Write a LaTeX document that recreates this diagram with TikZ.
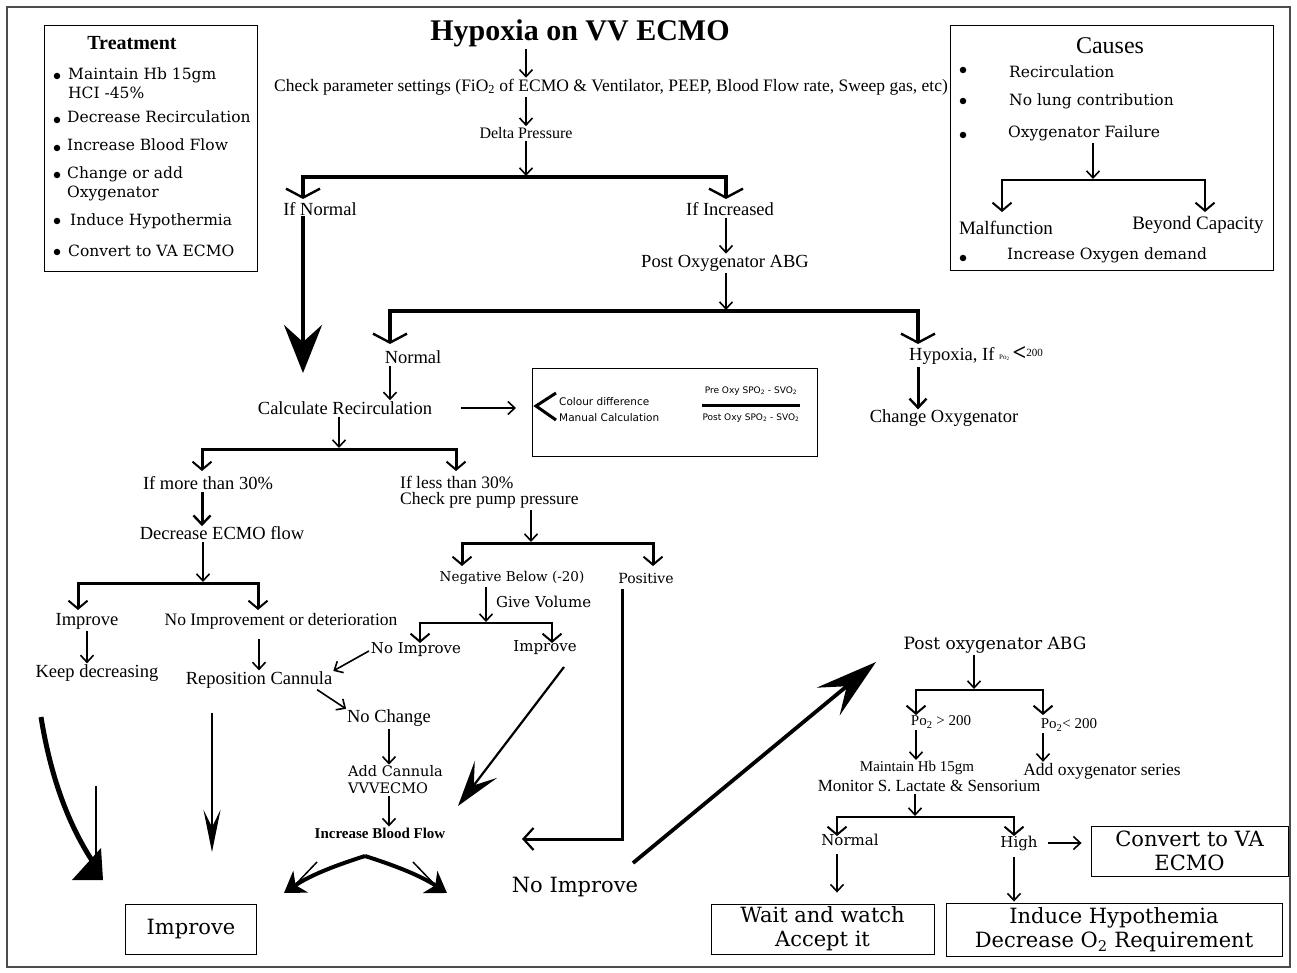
\documentclass[tikz,border=0pt]{standalone}
\usepackage{fontspec}
\setmainfont{Liberation Serif}
\newfontfamily\wide{DejaVu Serif}
\newfontfamily\dsans{DejaVu Sans}
\usetikzlibrary{arrows.meta}
\newcommand{\fs}[1]{\fontsize{#1}{#1}\selectfont}
\newcommand{\fsl}[2]{\fontsize{#1}{#2}\selectfont}
\tikzset{
  t/.style={inner sep=0pt, font=\fs{18.5}},
  w/.style={inner sep=0pt, font=\wide\fs{#1}},
  ar/.style={line width=1.6pt, shorten <=2pt, shorten >=1pt, -{Straight Barb[length=7pt,width=13pt,line width=1.6pt]}},
  thar/.style={line width=3pt, shorten <=2pt, -{Straight Barb[length=9pt,width=17pt,line width=2.4pt]}},
  brA/.style={line width=3.6pt, line join=miter, {Straight Barb[length=9pt,width=34pt,line width=2.4pt]}-{Straight Barb[length=9pt,width=34pt,line width=2.4pt]}},
  brB/.style={line width=3pt, line join=miter, {Straight Barb[length=8pt,width=19pt,line width=2pt]}-{Straight Barb[length=8pt,width=19pt,line width=2pt]}},
  box/.style={draw, line width=0.9pt, inner sep=0pt},
  dot/.style={fill, circle, inner sep=0pt, minimum size=6.5pt},
  frame/.style={draw=black!70, line width=1.2pt},
}
\begin{document}
\begin{tikzpicture}[x=1pt,y=-1pt]
\useasboundingbox (0,0) rectangle (1297,973);
\draw[frame] (7,7) rectangle (1290,967);

% ---------- Treatment box ----------
\node[box, anchor=north west, minimum width=213pt, minimum height=246pt] (tbox) at (44,25) {};
\node[inner sep=0pt, font=\bfseries\fs{20}] (treat) at (132,43) {Treatment};
\node[w=15.5, anchor=west] (tr1) at (68,75) {Maintain Hb 15gm};
\node[w=15.5, anchor=west] (tr1b) at (68,93) {HCI -45\%};
\node[w=15.5, anchor=west] (tr2) at (67,117) {Decrease Recirculation};
\node[w=15.5, anchor=west] (tr3) at (67,145) {Increase Blood Flow};
\node[w=15.5, anchor=west] (tr4) at (67,174) {Change or add};
\node[w=15.5, anchor=west] (tr4b) at (67,193) {Oxygenator};
\node[w=15.5, anchor=west] (tr5) at (70,221) {Induce Hypothermia};
\node[w=15.5, anchor=west] (tr6) at (68,251) {Convert to VA ECMO};
\node[dot] (tb1) at (57,76) {};
\node[dot] (tb2) at (57,120) {};
\node[dot] (tb3) at (57,148) {};
\node[dot] (tb4) at (57,175) {};
\node[dot] (tb5) at (57,221) {};
\node[dot] (tb6) at (57,252) {};

% ---------- Causes box ----------
\node[box, anchor=north west, minimum width=323pt, minimum height=245pt] (cbox) at (950,25) {};
\node[inner sep=0pt, font=\fs{24}] (causes) at (1110,46) {Causes};
\node[w=15.5, anchor=west] (c1) at (1009,72) {Recirculation};
\node[w=15.5, anchor=west] (c2) at (1009,101) {No lung contribution};
\node[w=15.5, anchor=west] (c3) at (1008,133) {Oxygenator Failure};
\node[w=15.5, anchor=west] (c4) at (1007,255) {Increase Oxygen demand};
\node[dot] (cb1) at (963,70) {};
\node[dot] (cb2) at (963,101) {};
\node[dot] (cb3) at (963,135) {};
\node[dot] (cb4) at (963,258) {};
\node[inner sep=0pt, font=\fs{19}] (malf) at (1006,228) {Malfunction};
\node[inner sep=0pt, font=\fs{19}] (beyond) at (1198,225) {Beyond Capacity};
\coordinate (cj) at (1093,180);
\coordinate (cdl) at (1002,212);
\coordinate (cdr) at (1205,212);
\draw[ar] (c3.south -| cj) -- (cj);
\draw[brB, line width=2.6pt] (cdl) |- (cj) -| (cdr);

% ---------- Top flow ----------
\node[inner sep=0pt, font=\bfseries\fs{30}] (title) at (580,33) {Hypoxia on VV ECMO};
\node[inner sep=0pt, font=\fs{17.5}] (check) at (611,87) {Check parameter settings (FiO\textsubscript{2} of ECMO \& Ventilator, PEEP, Blood Flow rate, Sweep gas, etc)};
\node[inner sep=0pt, font=\fs{16}] (delta) at (526,133) {Delta Pressure};
\draw[ar] (title.south -| delta) -- (check.north -| delta);
\draw[ar] (check.south -| delta) -- (delta.north);
\coordinate (j1) at (526,177);
\draw[ar, line width=2.2pt] (delta.south) -- (j1);
\coordinate (d1l) at (303,199);
\coordinate (d1r) at (726,199);
\draw[brA] (d1l) |- (j1) -| (d1r);

\node[t] (ifn) at (320,209) {If Normal};
\node[t] (ifi) at (730,209) {If Increased};
\node[t] (poabg) at (725,263) {Post Oxygenator ABG};
\draw[ar] (ifi.south -| d1r) -- (poabg.north -| d1r);
\coordinate (j2) at (726,311);
\draw[ar] (poabg.south -| d1r) -- (j2);
\coordinate (d2l) at (390,344);
\coordinate (d2r) at (918,344);
\draw[brA] (d2l) |- (j2) -| (d2r);

\coordinate (bt) at (303,373);
\draw[line width=4.5pt, -{Stealth[length=48pt,width=38pt,inset=17pt]}] (ifn.south -| d1l) -- (bt);

\node[t] (normal) at (413,357) {Normal};
\node[t] (hyp) at (976,356) {Hypoxia, If \raisebox{1pt}{\fs{7}Po\textsubscript{2}}\,{\bfseries\fs{24}<}\raisebox{4pt}{\fs{11}200}};
\node[t] (calcr) at (345,408) {Calculate Recirculation};
\draw[ar] (normal.south -| d2l) -- (calcr.north -| d2l);
\node[t] (chox) at (944,418) {Change Oxygenator};
\draw[thar] (hyp.south -| d2r) -- (chox.north -| d2r);

% recirculation box
\node[box, anchor=north west, minimum width=285pt, minimum height=88pt] (recbox) at (532,368) {};
\draw[ar, shorten <=29pt, shorten >=16pt] (calcr.east) -- (calcr.east -| recbox.west);
\draw[line width=3pt, line join=miter] (556,393) -- (536,406) -- (556,420);
\node[inner sep=0pt, font=\dsans\fs{10.5}, anchor=west] (coldiff) at (559,402) {Colour difference};
\node[inner sep=0pt, font=\dsans\fs{10.5}, anchor=west] (manual) at (559,418) {Manual Calculation};
\node[inner sep=0pt, font=\dsans\fs{9}] (num) at (751,391) {Pre Oxy SPO\textsubscript{2} - SVO\textsubscript{2}};
\node[inner sep=0pt, font=\dsans\fs{9}] (den) at (751,418) {Post Oxy SPO\textsubscript{2} - SVO\textsubscript{2}};
\draw[line width=3pt] (den.north west |- 0,405) -- (den.north east |- 0,405);

% ---------- recirculation split ----------
\coordinate (j3) at (339,449);
\draw[ar] (calcr.south -| j3) -- (j3);
\coordinate (d3l) at (202,471);
\coordinate (d3r) at (456,471);
\draw[brB] (d3l) |- (j3) -| (d3r);
\node[t] (more) at (208,483) {If more than 30\%};
\node[inner sep=0pt, font=\fs{17.5}, anchor=west] (less) at (400,482) {If less than 30\%};
\node[inner sep=0pt, font=\fs{17.5}, anchor=west] (cpp) at (400,500) {Check pre pump pressure};
\node[t] (dec) at (222,533) {Decrease ECMO flow};
\draw[thar] (more.south -| d3l) -- (dec.north -| d3l);
\coordinate (j4) at (203,583);
\draw[ar] (dec.south -| j4) -- (j4);
\coordinate (d4l) at (78,610);
\coordinate (d4r) at (258,610);
\draw[brB] (d4l) |- (j4) -| (d4r);
\node[t] (imp1) at (87,621) {Improve};
\node[t, font=\fs{17.5}] (noimp1) at (281,621) {No Improvement or deterioration};
\node[t] (keep) at (97,673) {Keep decreasing};
\node[t] (repo) at (259,680) {Reposition Cannula};
\draw[ar] (imp1.south) -- (imp1.south |- keep.north);
\draw[ar, shorten <=10pt] (noimp1.south -| repo) -- (repo.north);

% pre pump branch
\coordinate (j5) at (531,543);
\draw[ar] (cpp.south -| j5) -- (j5);
\coordinate (d5l) at (462,566);
\coordinate (d5r) at (653,566);
\draw[brB] (d5l) |- (j5) -| (d5r);
\node[w=13.5] (neg) at (512,578) {Negative Below (-20)};
\node[w=14] (pos) at (646,578) {Positive};
\node[w=15, anchor=west] (give) at (496,602) {Give Volume};
\coordinate (j6) at (486,623);
\draw[ar] (neg.south -| j6) -- (j6);
\coordinate (d6l) at (420,643);
\coordinate (d6r) at (552,643);
\draw[brB, line width=2.6pt] (d6l) |- (j6) -| (d6r);
\node[w=15] (noimp2) at (416,650) {No Improve};
\node[w=15] (imp2) at (545,648) {Improve};
\draw[ar] (noimp2.west) -- (repo.north east);
\node[t] (nochg) at (389,718) {No Change};
\draw[ar] ([xshift=-17pt]repo.south east) -- (nochg.north west);
\node[inner sep=0pt, font=\wide\fsl{14.5}{17}, anchor=west, align=left] (addc) at (348,780) {Add Cannula\\VVVECMO};
\draw[ar] (nochg.south) -- (nochg.south |- addc.north);
\node[inner sep=0pt, font=\bfseries\fs{15}] (ibf) at (380,833) {Increase Blood Flow};
\draw[ar] (addc.south -| nochg) -- (ibf.north -| nochg);

% curved pair from Increase Blood Flow
\coordinate (apex) at (365,856);
\coordinate (cl) at (284,893);
\coordinate (cr) at (447,893);
\draw[line width=4pt, -{Stealth[length=20pt,width=26pt,inset=6pt]}] (apex) .. controls (340,864) and (312,874) .. (cl);
\draw[line width=4pt, -{Stealth[length=20pt,width=26pt,inset=6pt]}] (apex) .. controls (390,864) and (418,874) .. (cr);
\draw[line width=1.5pt] (317,862) -- (296,884);
\draw[line width=1.5pt] (413,862) -- (436,886);

% Improve box
\node[box, font=\wide\fs{21}, minimum width=131pt, minimum height=50pt] (impbox) at (191,929) {Improve};

% reposition -> improve (long thin)
\coordinate (lt) at (212,852);
\draw[line width=1.8pt, shorten <=24pt, -{Stealth[length=42pt,width=17pt,inset=17pt]}] (repo.south -| lt) -- (lt);

% keep decreasing curved arrow
\coordinate (kv) at (41,717);
\coordinate (kh) at (93,862);
\draw[line width=5pt] (kv) .. controls (52,785) and (72,830) .. (kh);
\fill (72,880) -- (103,880) -- (101,848) -- cycle;
\draw[line width=2.5pt] (96,786) -- (96,874);

% positive -> no improve
\coordinate (pc) at (622,839);
\coordinate (pe) at (522,839);
\draw[line width=3pt, shorten <=6pt, -{Straight Barb[length=10pt,width=22pt,line width=2.2pt]}] (pos.south -| pc) -- (pc) -- (pe);

% improve (mid) -> down-left
\coordinate (is) at (564,667);
\coordinate (ia) at (458,806);
\draw[line width=2.2pt, -{Stealth[length=46pt,width=28pt,inset=20pt]}] (is) -- (ia);

\node[w=21] (nimp3) at (575,887) {No Improve};

% big diagonal to Post oxygenator ABG
\node[w=17] (pog) at (995,645) {Post oxygenator ABG};
\coordinate (ds) at (633,863);
\coordinate (dt) at (876,662);
\draw[line width=3.8pt, -{Stealth[length=62pt,width=36pt,inset=24pt]}] (ds) -- (dt);

% ---------- lower right ----------
\coordinate (j7) at (974,690);
\draw[ar] (pog.south -| j7) -- (j7);
\coordinate (d7l) at (916,715);
\coordinate (d7r) at (1043,715);
\draw[brB, line width=2.8pt] (d7l) |- (j7) -| (d7r);
\node[inner sep=0pt, font=\fs{15}] (pa) at (941,722) {Po\textsubscript{2} > 200};
\node[inner sep=0pt, font=\fs{15}] (pb) at (1069,725) {Po\textsubscript{2}< 200};
\node[inner sep=0pt, font=\fs{15}] (mhb) at (917,768) {Maintain Hb 15gm};
\node[inner sep=0pt, font=\fs{17}] (mon) at (929,786) {Monitor S. Lactate \& Sensorium};
\node[inner sep=0pt, font=\fs{17.5}] (addox) at (1102,771) {Add oxygenator series};
\draw[ar] (pa.south -| d7l) -- (mhb.north -| d7l);
\draw[ar] (pb.south -| d7r) -- (addox.north -| d7r);
\coordinate (j8) at (915,817);
\draw[ar] (mon.south -| j8) -- (j8);
\coordinate (d8l) at (837,836);
\coordinate (d8r) at (1014,836);
\draw[brB, line width=2.8pt] (d8l) |- (j8) -| (d8r);
\node[w=15] (nrm) at (850,840) {Normal};
\node[w=15] (high) at (1019,843) {High};
\node[box, align=center, font=\wide\fsl{21}{24}, minimum width=197pt, minimum height=50pt] (conv) at (1189.5,851) {Convert to VA\\ECMO};
\draw[ar, shorten <=10pt, shorten >=9pt] (high.east) -- (high.east -| conv.west);
\node[box, align=center, font=\wide\fsl{21}{24}, minimum width=223pt, minimum height=50pt] (wait) at (822.5,929) {Wait and watch\\Accept it};
\node[box, align=center, font=\wide\fsl{21}{24}, minimum width=336pt, minimum height=53pt] (ind) at (1114,929.5) {Induce Hypothemia\\Decrease O\textsubscript{2} Requirement};
\draw[ar, shorten <=8pt, shorten >=11pt] (nrm.south -| d8l) -- (wait.north -| d8l);
\draw[ar, shorten <=6pt] (high.south -| d8r) -- (ind.north -| d8r);
\end{tikzpicture}
\end{document}
